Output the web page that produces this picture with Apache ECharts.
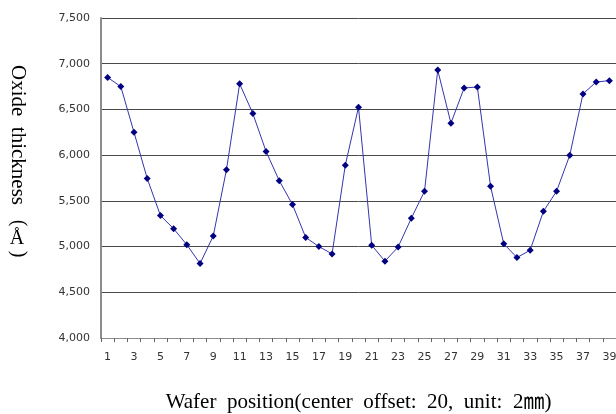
<!DOCTYPE html>
<html>
<head>
<meta charset="utf-8">
<script src="https://cdn.jsdelivr.net/npm/echarts@6/dist/echarts.min.js"></script>
<style>
html,body{margin:0;padding:0;background:#fff;}
#chart{width:616px;height:414px;}
</style>
</head>
<body>
<div id="chart"></div>
<script>
var categories = ['1','2','3','4','5','6','7','8','9','10','11','12','13','14','15','16','17','18','19','20',
  '21','22','23','24','25','26','27','28','29','30','31','32','33','34','35','36','37','38','39'];
var thickness = [6850, 6750, 6250, 5745, 5340, 5195, 5020, 4815, 5115, 5840,
  6780, 6455, 6040, 5720, 5460, 5100, 5000, 4920, 5890, 6525,
  5015, 4840, 4995, 5310, 5605, 6930, 6350, 6735, 6745, 5660,
  5030, 4880, 4960, 5385, 5605, 6000, 6670, 6800, 6815];
var yMin = 4000, yMax = 7500, yStep = 500;
var xTitle = 'Wafer  position(center  offset:  20,  unit:  2\u339C)';
var yTitleMain = 'Oxide  thickness';

var chart = echarts.init(document.getElementById('chart'), null, {renderer:'canvas'});
var serif = '"Liberation Serif", "Times New Roman", "Noto Sans CJK KR", serif';
chart.setOption({
  animation: false,
  backgroundColor: '#fff',
  grid: {left: 101, right: 0, top: 18, bottom: 76, containLabel: false, outerBoundsMode: 'none'},
  xAxis: {
    type: 'category',
    data: categories,
    boundaryGap: true,
    name: xTitle,
    nameLocation: 'middle',
    nameGap: 54,
    nameTextStyle: {fontFamily: serif, fontSize: 21, color: '#000'},
    axisLine: {lineStyle: {color: '#8c8c8c', width: 1}},
    axisTick: {show: true, length: 4, inside: false, alignWithLabel: false, interval: 0, lineStyle: {color: '#666'}},
    axisLabel: {interval: 1, margin: 14, fontFamily: '"DejaVu Sans", sans-serif', fontSize: 11, color: '#333'},
    splitLine: {show: false}
  },
  yAxis: {
    type: 'value',
    min: yMin, max: yMax, interval: yStep,
    axisLine: {show: true, lineStyle: {color: '#8c8c8c', width: 2}},
    axisTick: {show: false},
    axisLabel: {margin: 11, fontFamily: '"DejaVu Sans", sans-serif', fontSize: 11, color: '#333',
      formatter: function(v){ return v.toLocaleString('en-US'); }},
    splitLine: {show: true, lineStyle: {color: '#4a4a4a', width: 1}}
  },
  graphic: [
    {type: 'text', x: 18, y: 135, rotation: -Math.PI/2,
     style: {text: yTitleMain, font: '21px ' + serif, fill: '#000', textAlign: 'center', textVerticalAlign: 'middle'}},
    {type: 'text', x: 18, y: 223, rotation: -Math.PI/2,
     style: {text: '(', font: '20px ' + serif, fill: '#000', textAlign: 'center', textVerticalAlign: 'middle'}},
    {type: 'text', x: 17, y: 239,
     style: {text: '\u00C5', font: '20px ' + serif, fill: '#000', textAlign: 'center', textVerticalAlign: 'middle'}},
    {type: 'text', x: 18, y: 254, rotation: -Math.PI/2,
     style: {text: ')', font: '20px ' + serif, fill: '#000', textAlign: 'center', textVerticalAlign: 'middle'}}
  ],
  series: [{
    type: 'line',
    data: thickness,
    symbol: 'diamond',
    symbolSize: 7,
    showSymbol: true,
    itemStyle: {color: '#000080'},
    lineStyle: {color: '#3535b0', width: 1}
  }]
});
</script>
</body>
</html>
